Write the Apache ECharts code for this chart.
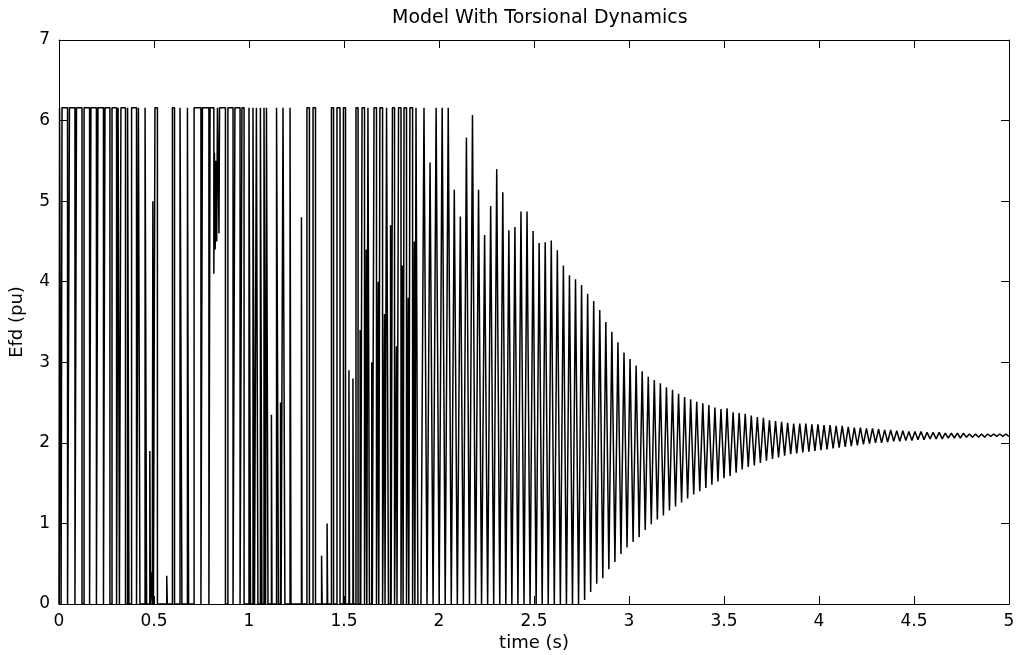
<!DOCTYPE html>
<html>
<head>
<meta charset="utf-8">
<script src="https://cdn.jsdelivr.net/npm/echarts@6/dist/echarts.min.js"></script>
<style>
html,body{margin:0;padding:0;background:#fff;}
#chart{width:1021px;height:655px;}
</style>
</head>
<body>
<div id="chart"></div>
<script>
// ---- Data ----
// Phase A (0 - 1.89 s): exciter at its ceiling / floor; switching instants (s) and the level (pu) reached at each
const aTimes = [
  0.000, 0.003, 0.011, 0.016, 0.045, 0.055, 0.084, 0.092, 0.121, 0.132, 0.161,
  0.168, 0.197, 0.205, 0.234, 0.242, 0.268, 0.279, 0.303, 0.311, 0.318,
  0.326, 0.350, 0.361, 0.368, 0.382, 0.408, 0.418, 0.426, 0.453, 0.461,
  0.478, 0.481, 0.489, 0.491, 0.494, 0.497, 0.505, 0.518, 0.567, 0.570,
  0.597, 0.608, 0.637, 0.647, 0.676, 0.682, 0.711, 0.747, 0.755, 0.789,
  0.795, 0.815, 0.818, 0.822, 0.826, 0.830, 0.834, 0.842, 0.845, 0.876,
  0.889, 0.916, 0.926, 0.953, 0.963, 0.974, 1.000, 1.008, 1.021, 1.029,
  1.039, 1.047, 1.060, 1.068, 1.079, 1.087, 1.092, 1.100, 1.118, 1.121,
  1.145, 1.155, 1.166, 1.169, 1.179, 1.189, 1.216, 1.221,
  1.276, 1.279, 1.305, 1.318, 1.337, 1.350, 1.382, 1.385,
  1.411, 1.414, 1.434, 1.445, 1.463, 1.479, 1.497, 1.508, 1.526, 1.529,
  1.547, 1.550, 1.563, 1.574, 1.585, 1.588, 1.595, 1.608, 1.617, 1.620,
  1.626, 1.634, 1.646, 1.649, 1.658, 1.671, 1.680, 1.683,
  1.689, 1.703, 1.713, 1.716, 1.724, 1.734, 1.745, 1.748,
  1.755, 1.766, 1.776, 1.779, 1.787, 1.800, 1.808, 1.811,
  1.816, 1.829, 1.838, 1.841, 1.847, 1.861, 1.870, 1.873, 1.879, 1.889
];
const aLevels = [
  0, 6.16, 0, 6.16, 0, 6.16, 0, 6.16, 0, 6.16, 0,
  6.16, 0, 6.16, 0, 6.16, 0, 6.16, 0, 6.16, 0,
  6.16, 0, 6.16, 0, 6.16, 0, 6.16, 0, 6.16, 0,
  1.9, 0, 0.4, 0, 5.0, 0, 6.16, 0, 0.35, 0,
  6.16, 0, 6.16, 0, 6.16, 0, 6.16, 0, 6.16, 0,
  6.16, 4.1, 5.6, 4.4, 5.5, 4.5, 6.16, 4.6, 6.16, 0,
  6.16, 0, 6.16, 0, 6.16, 0, 6.16, 0, 6.16, 0,
  6.16, 0, 6.16, 0, 6.16, 0, 6.16, 0, 2.35, 0,
  6.16, 0, 2.5, 0, 6.16, 0, 6.16, 0,
  4.8, 0, 6.16, 0, 6.16, 0, 0.6, 0,
  1.0, 0, 6.16, 0, 6.16, 0, 6.16, 0, 2.9, 0,
  2.8, 0, 6.16, 0, 3.4, 0, 6.16, 0, 4.4, 0,
  6.16, 0, 3.0, 0, 6.16, 0, 4.0, 0,
  6.16, 0, 3.6, 0, 6.16, 0, 4.7, 0,
  6.16, 0, 3.2, 0, 6.16, 0, 4.2, 0,
  6.16, 0, 3.8, 0, 6.16, 0, 4.5, 0, 6.16, 0
];

// Phase B (from 1.921 s): one oscillation cycle per entry, sampled once per half period
const bStart = 1.921;      // time of first peak (s)
const bPeriod = 0.0319;    // oscillation period (s)
const bPeaks = [
  6.16, 5.48, 6.16, 6.16, 6.16, 5.14, 4.81, 5.79, 6.07, 5.14,
  4.58, 4.94, 5.40, 5.11, 4.64, 4.68, 4.87, 4.87, 4.63, 4.48,
  4.49, 4.51, 4.39, 4.20, 4.08, 4.03, 3.96, 3.85, 3.76, 3.65,
  3.50, 3.38, 3.25, 3.12, 3.04, 2.96, 2.89, 2.82, 2.78, 2.74,
  2.69, 2.66, 2.61, 2.57, 2.54, 2.51, 2.49, 2.47, 2.44, 2.42,
  2.43, 2.38, 2.37, 2.36, 2.34, 2.32, 2.31, 2.28, 2.27, 2.26,
  2.25, 2.24, 2.24, 2.24, 2.23, 2.23, 2.22, 2.22, 2.21, 2.21,
  2.20, 2.19, 2.19, 2.18, 2.18, 2.17, 2.16, 2.16, 2.15, 2.15,
  2.14, 2.14, 2.14, 2.13, 2.13, 2.13, 2.12, 2.12, 2.12, 2.12,
  2.11, 2.11, 2.11, 2.11, 2.11, 2.11, 2.11
];
const bTroughs = [
  0, 0, 0, 0, 0, 0, 0, 0, 0, 0,
  0, 0, 0, 0, 0, 0, 0, 0, 0, 0,
  0, 0, 0, 0, 0, 0, 0.05, 0.15, 0.25, 0.32,
  0.43, 0.52, 0.62, 0.70, 0.77, 0.83, 0.92, 0.99, 1.05, 1.10,
  1.16, 1.21, 1.26, 1.31, 1.36, 1.40, 1.44, 1.48, 1.52, 1.56,
  1.59, 1.63, 1.67, 1.70, 1.72, 1.75, 1.78, 1.80, 1.82, 1.84,
  1.86, 1.87, 1.88, 1.89, 1.90, 1.91, 1.92, 1.93, 1.94, 1.95,
  1.96, 1.97, 1.98, 1.99, 2.00, 2.00, 2.01, 2.02, 2.02, 2.03,
  2.03, 2.04, 2.04, 2.05, 2.05, 2.05, 2.06, 2.06, 2.06, 2.07,
  2.07, 2.07, 2.07, 2.08, 2.08, 2.08, 2.08
];

const xTicks = { min: 0, max: 5, interval: 0.5 };
const yTicks = { min: 0, max: 7, interval: 1 };

// ---- Build series data ----
const aData = aTimes.map((t, i) => [t, aLevels[i]]);
const bData = [[bStart - bPeriod / 2, 0]];
bPeaks.forEach((p, k) => {
  bData.push([bStart + k * bPeriod, p]);
  bData.push([bStart + (k + 0.5) * bPeriod, bTroughs[k]]);
});

const FONT = 'DejaVu Sans';
const lineStyle = { color: '#000', width: 1.5 };
const axisCommon = {
  type: 'value',
  axisLine: { show: true, onZero: false, lineStyle: { color: '#000', width: 1 } },
  axisTick: { show: true, inside: true, length: 8, lineStyle: { color: '#000', width: 1 } },
  splitLine: { show: false },
  axisLabel: { color: '#000', fontSize: 17, fontFamily: FONT }
};

const chart = echarts.init(document.getElementById('chart'), null, { renderer: 'canvas' });
chart.setOption({
  animation: false,
  backgroundColor: '#fff',
  title: {
    text: 'Model With Torsional Dynamics',
    left: 392, top: 9, padding: 0,
    textStyle: { color: '#000', fontSize: 19, fontWeight: 'normal', fontFamily: FONT }
  },
  grid: { left: 59, right: 12, top: 40, bottom: 51, containLabel: false, outerBoundsMode: 'none' },
  xAxis: [
    Object.assign({}, axisCommon, {
      position: 'bottom', min: xTicks.min, max: xTicks.max, interval: xTicks.interval,
      axisLabel: Object.assign({}, axisCommon.axisLabel, { margin: 9, showMinLabel: true, showMaxLabel: true }),
      name: 'time (s)', nameLocation: 'middle', nameGap: 30, nameMoveOverlap: false,
      nameTextStyle: { color: '#000', fontSize: 18, fontFamily: FONT }
    }),
    Object.assign({}, axisCommon, {
      position: 'top', min: xTicks.min, max: xTicks.max, interval: xTicks.interval,
      axisLabel: { show: false }
    })
  ],
  yAxis: [
    Object.assign({}, axisCommon, {
      position: 'left', min: yTicks.min, max: yTicks.max, interval: yTicks.interval,
      axisLabel: Object.assign({}, axisCommon.axisLabel, { margin: 9 }),
      name: 'Efd (pu)', nameLocation: 'middle', nameGap: 33,
      nameTextStyle: { color: '#000', fontSize: 18, fontFamily: FONT }
    }),
    Object.assign({}, axisCommon, {
      position: 'right', min: yTicks.min, max: yTicks.max, interval: yTicks.interval,
      axisLabel: { show: false }
    })
  ],
  series: [
    { type: 'line', step: 'end', data: aData, symbol: 'none', lineStyle: lineStyle, silent: true, clip: true },
    { type: 'line', data: bData, symbol: 'none', lineStyle: lineStyle, silent: true, clip: true }
  ]
});
</script>
</body>
</html>
